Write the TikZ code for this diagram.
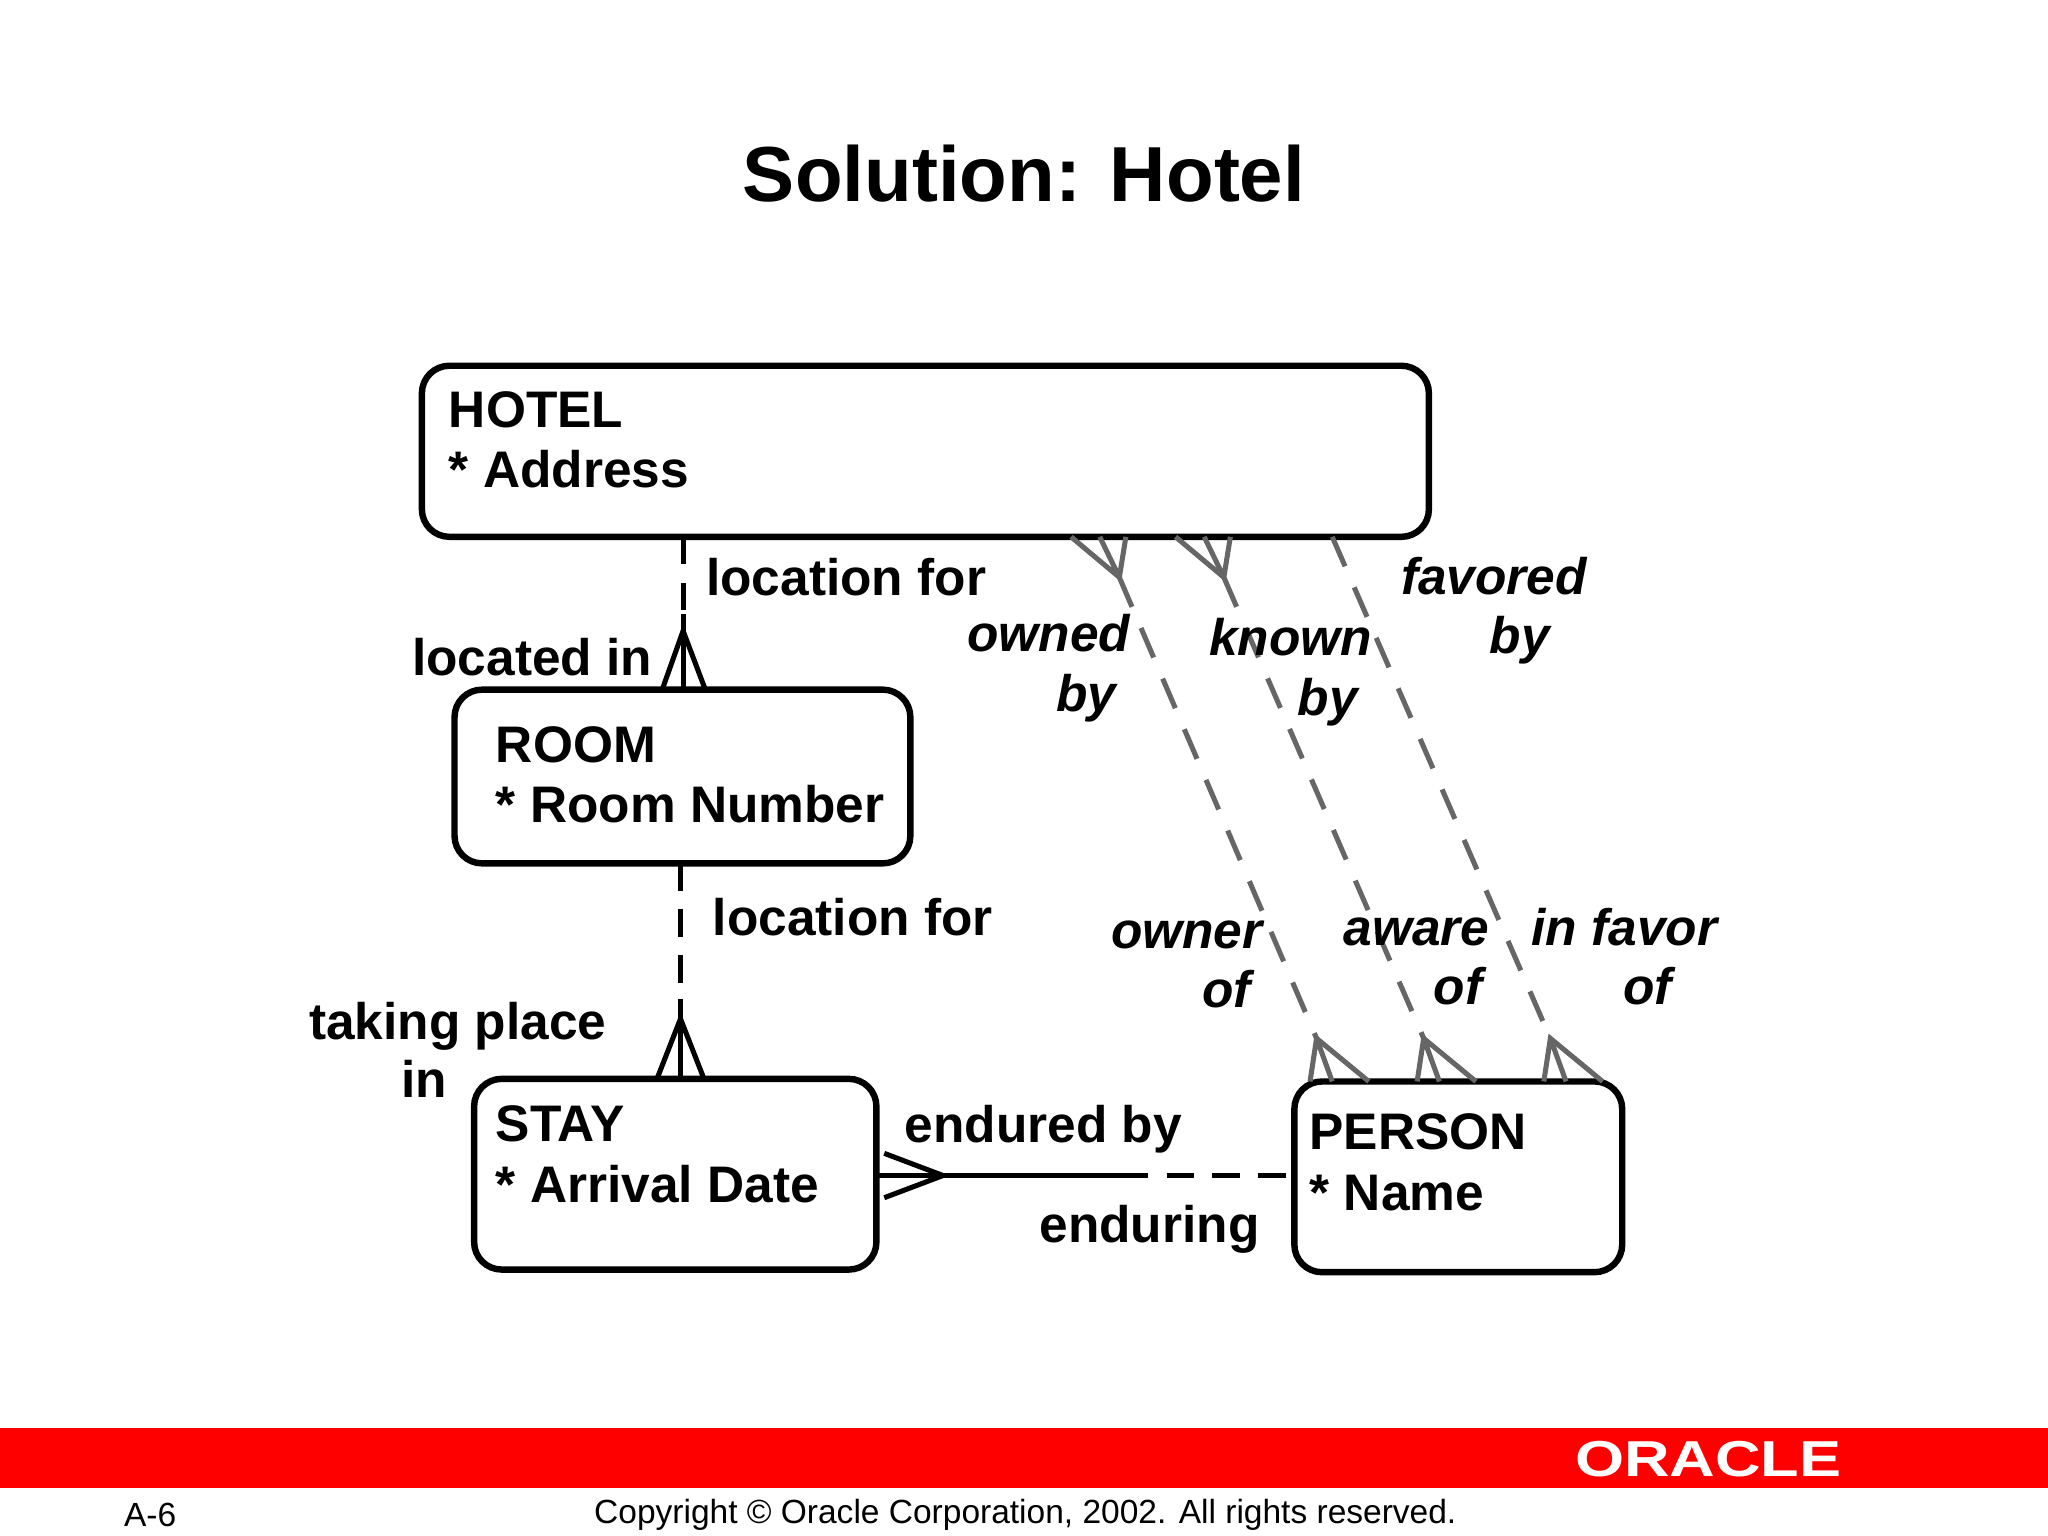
\documentclass[tikz,border=0pt]{standalone}
\usepackage{fontspec}
\setmainfont{Liberation Sans}
\begin{document}
\begin{tikzpicture}[x=0.1mm,y=-0.1mm,
  ent/.style={draw,line width=1.4pt,rounded corners=6pt,inner sep=0pt},
  lbl/.style={font=\fontsize{11.2pt}{13.3pt}\selectfont\bfseries,inner sep=0pt},
  ilbl/.style={font=\fontsize{11.2pt}{13.3pt}\selectfont\bfseries\itshape,inner sep=0pt},
  rel/.style={line width=1.1pt},
  grel/.style={line width=1.1pt,draw=gray!80!black,dash pattern=on 7pt off 5pt}]
\useasboundingbox (0,0) rectangle (1568,1176);
% entities
\draw[ent] (323,280) rectangle (1094,411); \coordinate (hotel) at (323,280);
\draw[ent] (348,528) rectangle (697,661); \coordinate (room) at (348,528);
\draw[ent] (363,826) rectangle (671,972); \coordinate (stay) at (363,826);
\draw[ent] (991,828) rectangle (1242,974); \coordinate (person) at (991,828);
\node[lbl,anchor=base west] (th1) at (343,327) {HOTEL};
\node[lbl,anchor=base west] (th2) at (343,373) {* Address};
\node[lbl,anchor=base west] (tr1) at (379,584) {ROOM};
\node[lbl,anchor=base west] (tr2) at (379,630) {* Room Number};
\node[lbl,anchor=base west] (ts1) at (379,874) {STAY};
\node[lbl,anchor=base west] (ts2) at (379,921) {* Arrival Date};
\node[lbl,anchor=base west] (tp1) at (1002,880) {PERSON};
\node[lbl,anchor=base west] (tp2) at (1002,927) {* Name};
\node[font=\fontsize{17pt}{20pt}\selectfont\bfseries] (title) at (784,133) {Solution: Hotel};
% hotel-room
\coordinate (a1) at (523,411); \coordinate (a2) at (523,470); \coordinate (a3) at (523,528); \coordinate (a4) at (523,483);
\draw[rel,dash pattern=on 6pt off 4pt] (a1)--(a2);
\draw[rel] (a2)--(a3);
\draw[rel] (507,528)--(a4)--(540,528);
\node[lbl,anchor=base west] (l1) at (540,456) {location for};
\node[lbl,anchor=base east] (l2) at (500,517) {located in};
% room-stay
\coordinate (b1) at (521,661); \coordinate (b2) at (521,765); \coordinate (b3) at (521,826); \coordinate (b4) at (521,780);
\draw[rel,dash pattern=on 6pt off 4pt] (b1)--(b2);
\draw[rel] (b2)--(b3);
\draw[rel] (503,826)--(b4)--(539,826);
\node[lbl,anchor=base west] (l3) at (545,716) {location for};
\node[lbl,anchor=base east] (l4) at (465,796) {taking place};
\node[lbl,anchor=base east] (l4b) at (343,840) {in};
% stay-person
\coordinate (c1) at (671,900); \coordinate (c2) at (858,900); \coordinate (c3) at (991,900); \coordinate (c4) at (722,900);
\draw[rel] (c1)--(c2);
\draw[rel,dash pattern=on 6pt off 4pt] (c2)--(c3);
\draw[rel] (677,883)--(c4)--(677,917);
\node[lbl,anchor=base west] (l5) at (692,875) {endured by};
\node[lbl,anchor=base east] (l6) at (965,951) {enduring};
% gray relationships
\foreach \tx/\bx [count=\i] in {857/1008, 937/1090}{
  \coordinate (g\i t) at (\tx,442); \coordinate (g\i b) at (\bx,795);
  \draw[grel] (g\i t)--(g\i b);
  \draw[line width=1.1pt,gray!80!black] (\tx-37,411)--(g\i t)--(\tx+5,411) (\tx-15,411)--(g\i t);
  \draw[line width=1.1pt,gray!80!black] (\bx-5,828)--(g\i b)--(\bx+40,828) (\bx+12,828)--(g\i b);
}
\coordinate (g3t) at (1020,411); \coordinate (g3b) at (1187,795);
\draw[grel] (g3t)--(g3b);
\draw[line width=1.1pt,gray!80!black] (1182,828)--(g3b)--(1227,828) (1199,828)--(g3b);
\node[ilbl,anchor=base west] (m1) at (740,499) {owned};
\node[ilbl,anchor=base west] (m1b) at (808,545) {by};
\node[ilbl,anchor=base west] (m2) at (925,502) {known};
\node[ilbl,anchor=base west] (m2b) at (993,548) {by};
\node[ilbl,anchor=base west] (m3) at (1072,455) {favored};
\node[ilbl,anchor=base west] (m3b) at (1140,500) {by};
\node[ilbl,anchor=base west] (m4) at (850,726) {owner};
\node[ilbl,anchor=base west] (m4b) at (920,771) {of};
\node[ilbl,anchor=base west] (m5) at (1028,724) {aware};
\node[ilbl,anchor=base west] (m5b) at (1097,769) {of};
\node[ilbl,anchor=base west] (m6) at (1172,724) {in favor};
\node[ilbl,anchor=base west] (m6b) at (1242,769) {of};
% footer
\fill[red] (0,1093) rectangle (1568,1139);
\node[text=white,font=\fontsize{11pt}{11pt}\selectfont\bfseries,xscale=1.25] (logo) at (1308,1117) {ORACLE};
\node[font=\fontsize{7.3pt}{8pt}\selectfont] (pg) at (115,1160) {A-6};
\node[font=\fontsize{7.3pt}{8pt}\selectfont] (cp) at (785,1160) {Copyright © Oracle Corporation, 2002. All rights reserved.};
\end{tikzpicture}
\end{document}
